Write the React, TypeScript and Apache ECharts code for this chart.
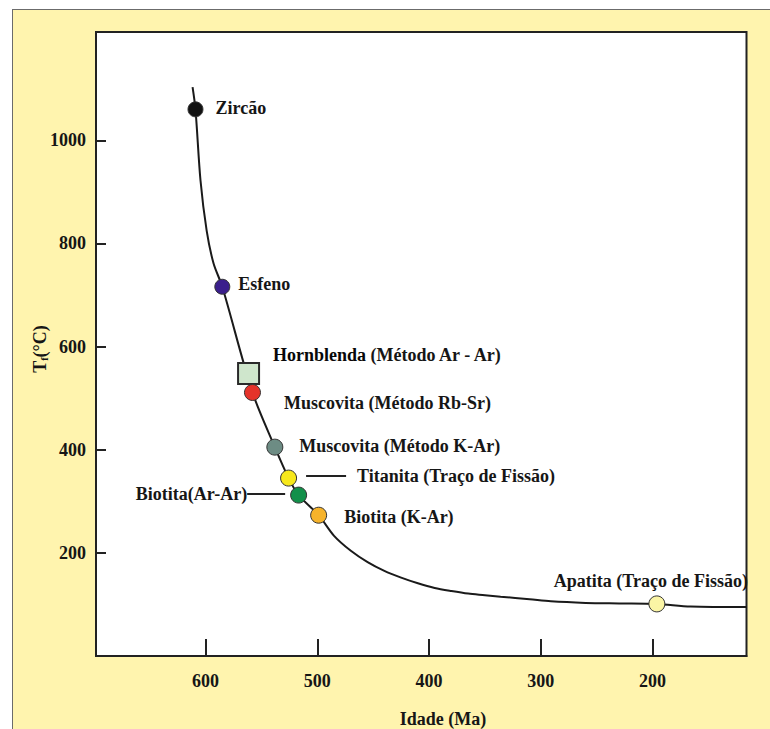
import React, { useEffect, useRef } from 'react';
import * as echarts from 'echarts';

// Cooling curve (age in Ma, closure temperature in °C)
const curveAge = [611.6, 609, 604.5, 599, 592.8, 585, 558, 538, 525.7, 516.7, 498.8, 485, 470, 455, 440, 425, 410, 395, 380, 365, 350, 336, 310, 291, 260, 230, 196, 166, 116];
const curveTemp = [1103, 1060, 922, 825, 761, 716, 511, 405, 345, 312, 273, 233, 204, 182, 165, 152, 141, 132, 126, 121, 118, 115, 110, 106, 103, 102, 101, 96, 95];

// Minerals on the curve
const mineralNames = [
  'Zircão',
  'Esfeno',
  'Hornblenda (Método Ar - Ar)',
  'Muscovita (Método Rb-Sr)',
  'Muscovita (Método K-Ar)',
  'Titanita (Traço de Fissão)',
  'Biotita(Ar-Ar)',
  'Biotita (K-Ar)',
  'Apatita (Traço de Fissão)',
];
const mineralAge = [609, 585, 561.5, 558, 538, 525.7, 516.7, 498.8, 196.2];
const mineralTemp = [1060, 716, 548, 511, 405, 345, 312, 273, 101];

// Tick labels
const xTicks = [600, 500, 400, 300, 200];
const yTicks = [200, 400, 600, 800, 1000];

const FONT = '"Liberation Serif", "Times New Roman", serif';
const TXT = '#161616';

const markerColors = ['#111111', '#3b1f8c', '#cfe6cc', '#e5332a', '#6d8c84', '#f7e81b', '#12904a', '#f6b32b', '#fbf5a5'];
const markerSymbols = ['circle', 'circle', 'rect', 'circle', 'circle', 'circle', 'circle', 'circle', 'circle'];
const markerSizes = [15, 15, 21, 16, 16, 16, 16, 16, 16];

const baseText = { fontFamily: FONT, fontWeight: 'bold', fontSize: 18, color: TXT };

const labelCfg: any[] = [
  { position: 'right', distance: 12, offset: [0, -1] },
  { position: 'right', distance: 8, offset: [0, -3] },
  {
    position: 'right', distance: 13, offset: [0, -18],
    formatter: '{b|Hornblenda} {t|(Método Ar - Ar)}',
    rich: { b: { ...baseText, fontSize: 18, color: '#080808' }, t: { ...baseText } },
  },
  { position: 'right', distance: 23, offset: [0, 11] },
  { position: 'right', distance: 16, offset: [0, -1] },
  {
    position: 'right', distance: 9, offset: [0, -2],
    formatter: '{ln|}{sp|}{t|Titanita (Traço de Fissão)}',
    rich: {
      ln: { width: 40, height: 2, backgroundColor: '#222' },
      sp: { width: 11, height: 2 },
      t: { ...baseText },
    },
  },
  {
    position: 'left', distance: 5, offset: [0, -1],
    formatter: '{t|Biotita(Ar-Ar)}{ln|}',
    rich: {
      ln: { width: 38, height: 2, backgroundColor: '#222' },
      t: { ...baseText },
    },
  },
  { position: 'right', distance: 17, offset: [0, 2] },
  { position: 'top', distance: 5, offset: [-6, 0] },
];

export default function App() {
  const ref = useRef<HTMLDivElement>(null);

  useEffect(() => {
    document.body.style.margin = '0';
    if (!ref.current) return;
    const chart = echarts.init(ref.current, undefined, { renderer: 'svg' });

    const curveData = curveAge.map((a, i) => [a, curveTemp[i]]);
    const mineralData = mineralNames.map((n, i) => ({
      name: n,
      value: [mineralAge[i], mineralTemp[i]],
      symbol: markerSymbols[i],
      symbolSize: markerSizes[i],
      itemStyle: {
        color: markerColors[i],
        borderColor: i === 2 ? '#2a2a2a' : '#333',
        borderWidth: i === 2 ? 2 : 1,
        opacity: 1,
      },
      label: {
        show: true,
        ...baseText,
        formatter: '{b}',
        ...labelCfg[i],
      },
    }));

    chart.setOption({
      animation: false,
      grid: {
        left: 96, top: 32, right: 23.5, bottom: 73,
        show: true, backgroundColor: '#ffffff', borderColor: '#222', borderWidth: 2,
      },
      xAxis: {
        type: 'value', inverse: true, min: 116, max: 698,
        axisLine: { show: true, onZero: false, lineStyle: { color: '#222', width: 2 } },
        axisTick: { show: true, inside: true, length: 17, customValues: xTicks, lineStyle: { color: '#222', width: 2 } },
        axisLabel: { show: true, customValues: xTicks, margin: 16, formatter: (v: number) => String(v), ...baseText },
        splitLine: { show: false },
      },
      yAxis: {
        type: 'value', min: 0, max: 1210,
        axisLine: { show: true, onZero: false, lineStyle: { color: '#222', width: 2 } },
        axisTick: { show: true, inside: true, length: 10, customValues: yTicks, lineStyle: { color: '#222', width: 2 } },
        axisLabel: { show: true, customValues: yTicks, margin: 10, formatter: (v: number) => String(v), ...baseText },
        splitLine: { show: false },
      },
      graphic: [
        {
          type: 'text', x: 443, y: 719,
          style: { text: 'Idade (Ma)', font: `bold 18px ${FONT}`, fill: TXT, align: 'center', verticalAlign: 'middle' },
        },
        {
          type: 'text', x: 40, y: 349, rotation: Math.PI / 2,
          style: {
            text: '{a|T}{s|f}{a|(°C)}', fill: TXT, align: 'center', verticalAlign: 'middle',
            rich: {
              a: { fontFamily: FONT, fontWeight: 'bold', fontSize: 18, fill: TXT },
              s: { fontFamily: FONT, fontWeight: 'bold', fontSize: 10, fill: TXT, verticalAlign: 'bottom', padding: [6, 0, 0, 0] },
            },
          },
        },
      ],
      series: [
        {
          type: 'line', data: curveData, smooth: 0.3, showSymbol: false, symbol: 'none',
          lineStyle: { color: '#1a1a1a', width: 2 }, z: 2, silent: true,
        },
        {
          type: 'scatter', data: mineralData, z: 3, itemStyle: { opacity: 1 },
        },
      ],
    });

    return () => chart.dispose();
  }, []);

  return (
    <div style={{ position: 'relative', width: 770, height: 729, background: '#ffffff', overflow: 'hidden' }}>
      <div style={{ position: 'absolute', left: 12, top: 9, width: 900, height: 900, background: '#fff4ae', border: '1.5px solid #6b6b6b', boxSizing: 'border-box' }} />
      <div ref={ref} style={{ position: 'absolute', left: 0, top: 0, width: 770, height: 729 }} />
    </div>
  );
}
